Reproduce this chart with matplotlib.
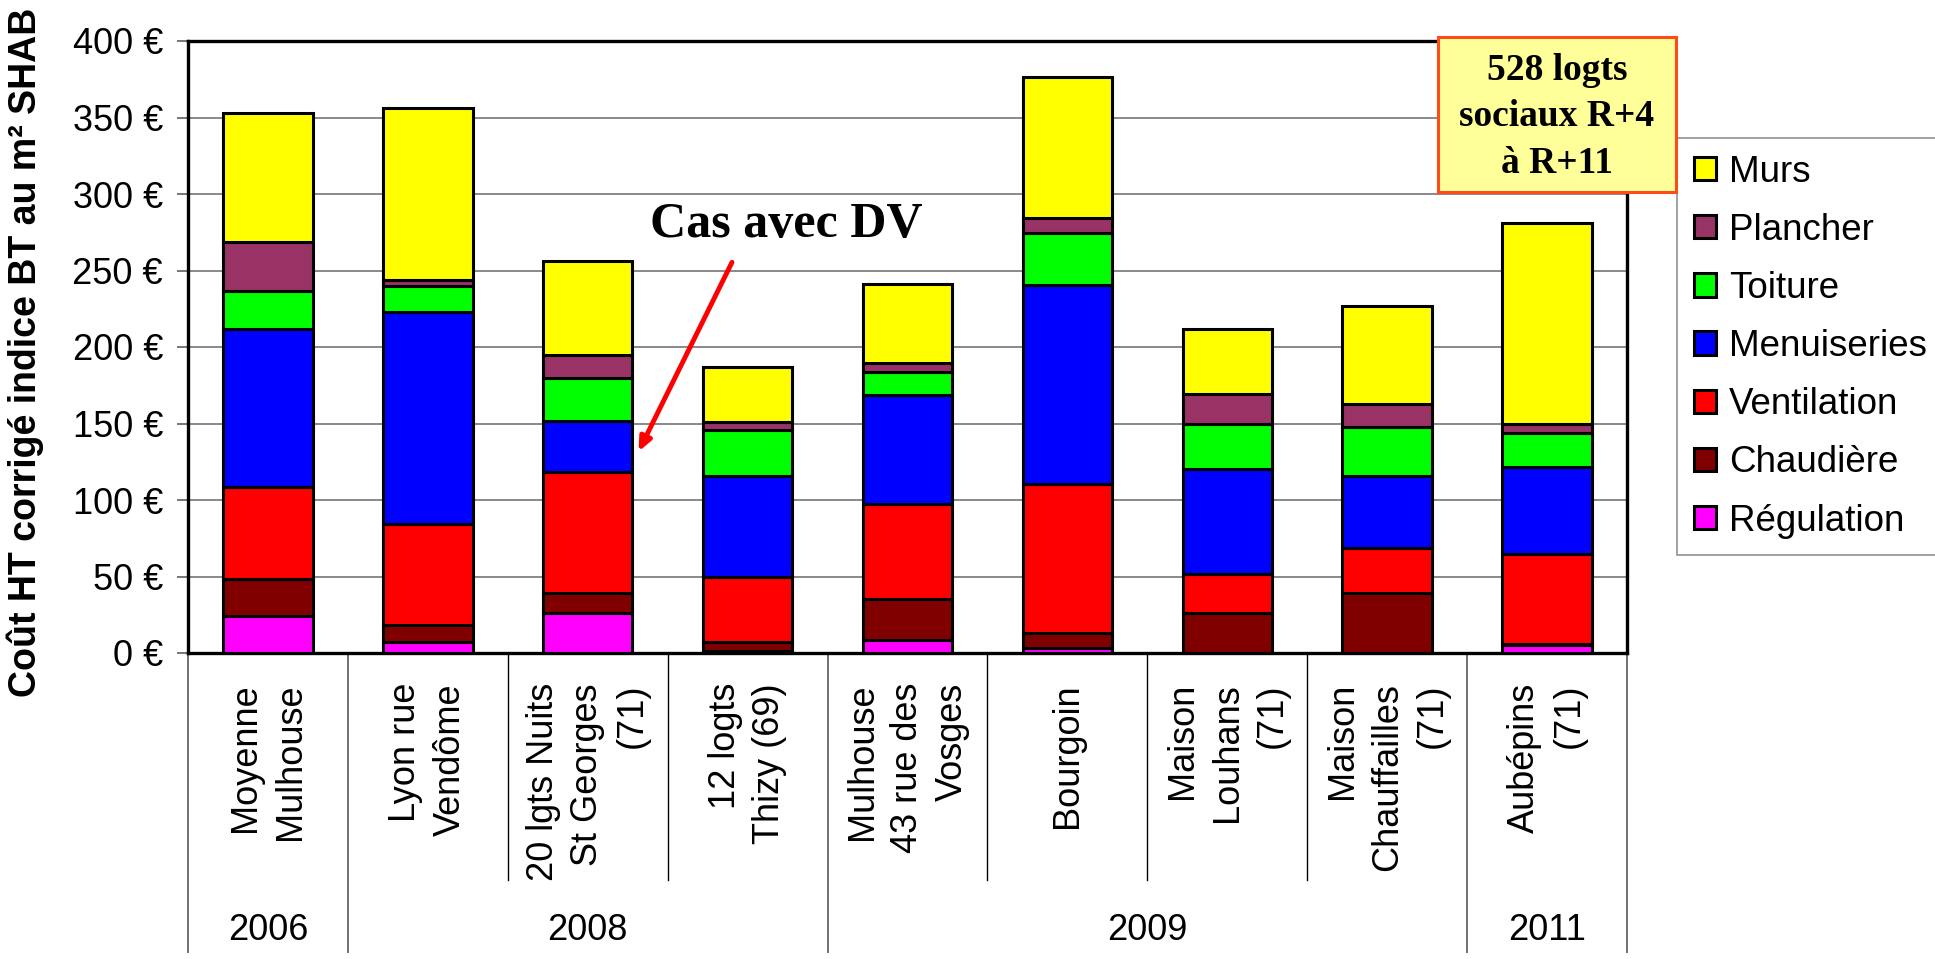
import matplotlib.pyplot as plt
from matplotlib.patches import Rectangle
from matplotlib.transforms import blended_transform_factory
import numpy as np

# projects (x axis) and the year groups below them
projects = [
    "Moyenne\nMulhouse",
    "Lyon rue\nVendôme",
    "20 lgts Nuits\nSt Georges\n(71)",
    "12 logts\nThizy (69)",
    "Mulhouse\n43 rue des\nVosges",
    "Bourgoin",
    "Maison\nLouhans\n(71)",
    "Maison\nChauffailles\n(71)",
    "Aubépins\n(71)",
]
years = ["2006", "2008", "2009", "2011"]
year_sizes = [1, 3, 4, 1]

# cost per m2, stacked from bottom to top
regulation = [24, 7, 26, 1, 8.5, 3, 0, 0, 5]
chaudiere = [24.5, 11.5, 13, 6, 27, 10, 26, 39, 1]
ventilation = [60, 65.5, 79, 42.5, 62, 97.5, 25.5, 29.5, 59]
menuiseries = [103.5, 139, 33.5, 66.5, 71, 130, 68.5, 47.5, 56.5]
toiture = [24.5, 17, 28, 29.5, 15, 34, 30, 31.5, 22.5]
plancher = [32, 3.5, 15, 5.5, 6, 10, 19, 15.5, 5.5]
murs = [84.5, 113, 62, 36, 52, 92, 43, 63.5, 131.5]

series = [
    ("Régulation", regulation, "#FF00FF"),
    ("Chaudière", chaudiere, "#800000"),
    ("Ventilation", ventilation, "#FF0000"),
    ("Menuiseries", menuiseries, "#0000FF"),
    ("Toiture", toiture, "#00FF00"),
    ("Plancher", plancher, "#993366"),
    ("Murs", murs, "#FFFF00"),
]

yticks = [0, 50, 100, 150, 200, 250, 300, 350, 400]

plt.rcParams["font.family"] = ["Liberation Sans", "DejaVu Sans"]

W, H = 1935, 959
fs = 26


def fx(x):
    return x / W


def fy(y):
    return 1 - y / H


fig = plt.figure(figsize=(W / 100, H / 100), dpi=100)
ax = fig.add_axes([fx(188), fy(653), fx(1627) - fx(188), fy(41) - fy(653)])

x = np.arange(len(projects))
bottom = np.zeros(len(projects))
bars = []
for name, vals, col in series:
    b = ax.bar(x, vals, 0.56, bottom=bottom, color=col, edgecolor="black",
               linewidth=2.2, label=name, zorder=3)
    bars.append(b)
    bottom += np.array(vals)

ax.set_xlim(-0.5, len(projects) - 0.5)
ax.set_ylim(0, 400)
ax.set_yticks(yticks)
ax.set_yticklabels([f"{v} €" for v in yticks], fontsize=fs)
ax.tick_params(axis="y", length=8, width=1.2, pad=10, color="#606060")
ax.set_xticks([])
ax.yaxis.grid(True, color="#808080", linewidth=1.3, zorder=0)
for s in ax.spines.values():
    s.set_linewidth(2.4)

fig.text(fx(25), fy(352), "Coût HT corrigé indice BT au m² SHAB", rotation=90,
         ha="center", va="center", fontsize=27, fontweight="bold")

# category table below the axis
trans = blended_transform_factory(ax.transData, ax.transAxes)
for i, lab in enumerate(projects):
    ax.text(i, (653 - 683) / 612, lab, transform=trans, rotation=90, ha="center",
            va="top", multialignment="right", fontsize=fs, linespacing=1.36)

row_bottom = (653 - 880) / 612
table_bottom = (653 - 952) / 612
edges = np.cumsum([0] + year_sizes) - 0.5
for i in range(len(projects) + 1):
    xe = i - 0.5
    if xe in edges:
        ax.plot([xe, xe], [0, table_bottom], transform=trans, color="#707070",
                lw=1.4, clip_on=False)
    else:
        ax.plot([xe, xe], [0, row_bottom], transform=trans, color="black",
                lw=1.0, clip_on=False)

for k, yr in enumerate(years):
    xc = (edges[k] + edges[k + 1]) / 2
    ax.text(xc, (653 - 930) / 612, yr, transform=trans, ha="center", va="center",
            fontsize=fs)

# annotation
ax.annotate("", xy=(2.31, 130), xytext=(2.91, 257),
            arrowprops=dict(arrowstyle="-|>,head_length=0.8,head_width=0.35",
                            color="#FF0000", lw=3.5), zorder=5)
ax.text(3.24, 272, "Cas avec DV", ha="center", va="baseline", fontsize=36,
        fontweight="bold", family="Liberation Serif", zorder=5)

box = Rectangle((fx(1438), fy(192)), fx(1676) - fx(1438), fy(37) - fy(192),
                transform=fig.transFigure, facecolor="#FFFF99", edgecolor="#FF4A1A",
                linewidth=2.2, zorder=10)
fig.add_artist(box)
fig.text(fx(1557), fy(117), "528 logts\nsociaux R+4\nà R+11", ha="center", va="center",
         fontsize=27, fontweight="bold", family="Liberation Serif", linespacing=1.42,
         zorder=11)

leg = fig.legend(handles=bars[::-1], loc="upper left", bbox_to_anchor=(fx(1677), fy(138)),
                 fontsize=26.5, frameon=True, fancybox=False, edgecolor="#808080",
                 handlelength=0.6, handleheight=0.6, handletextpad=0.36,
                 labelspacing=0.63, borderpad=0.45, borderaxespad=0)
leg.get_frame().set_linewidth(1.3)

fig.savefig("out.png", dpi=100)
